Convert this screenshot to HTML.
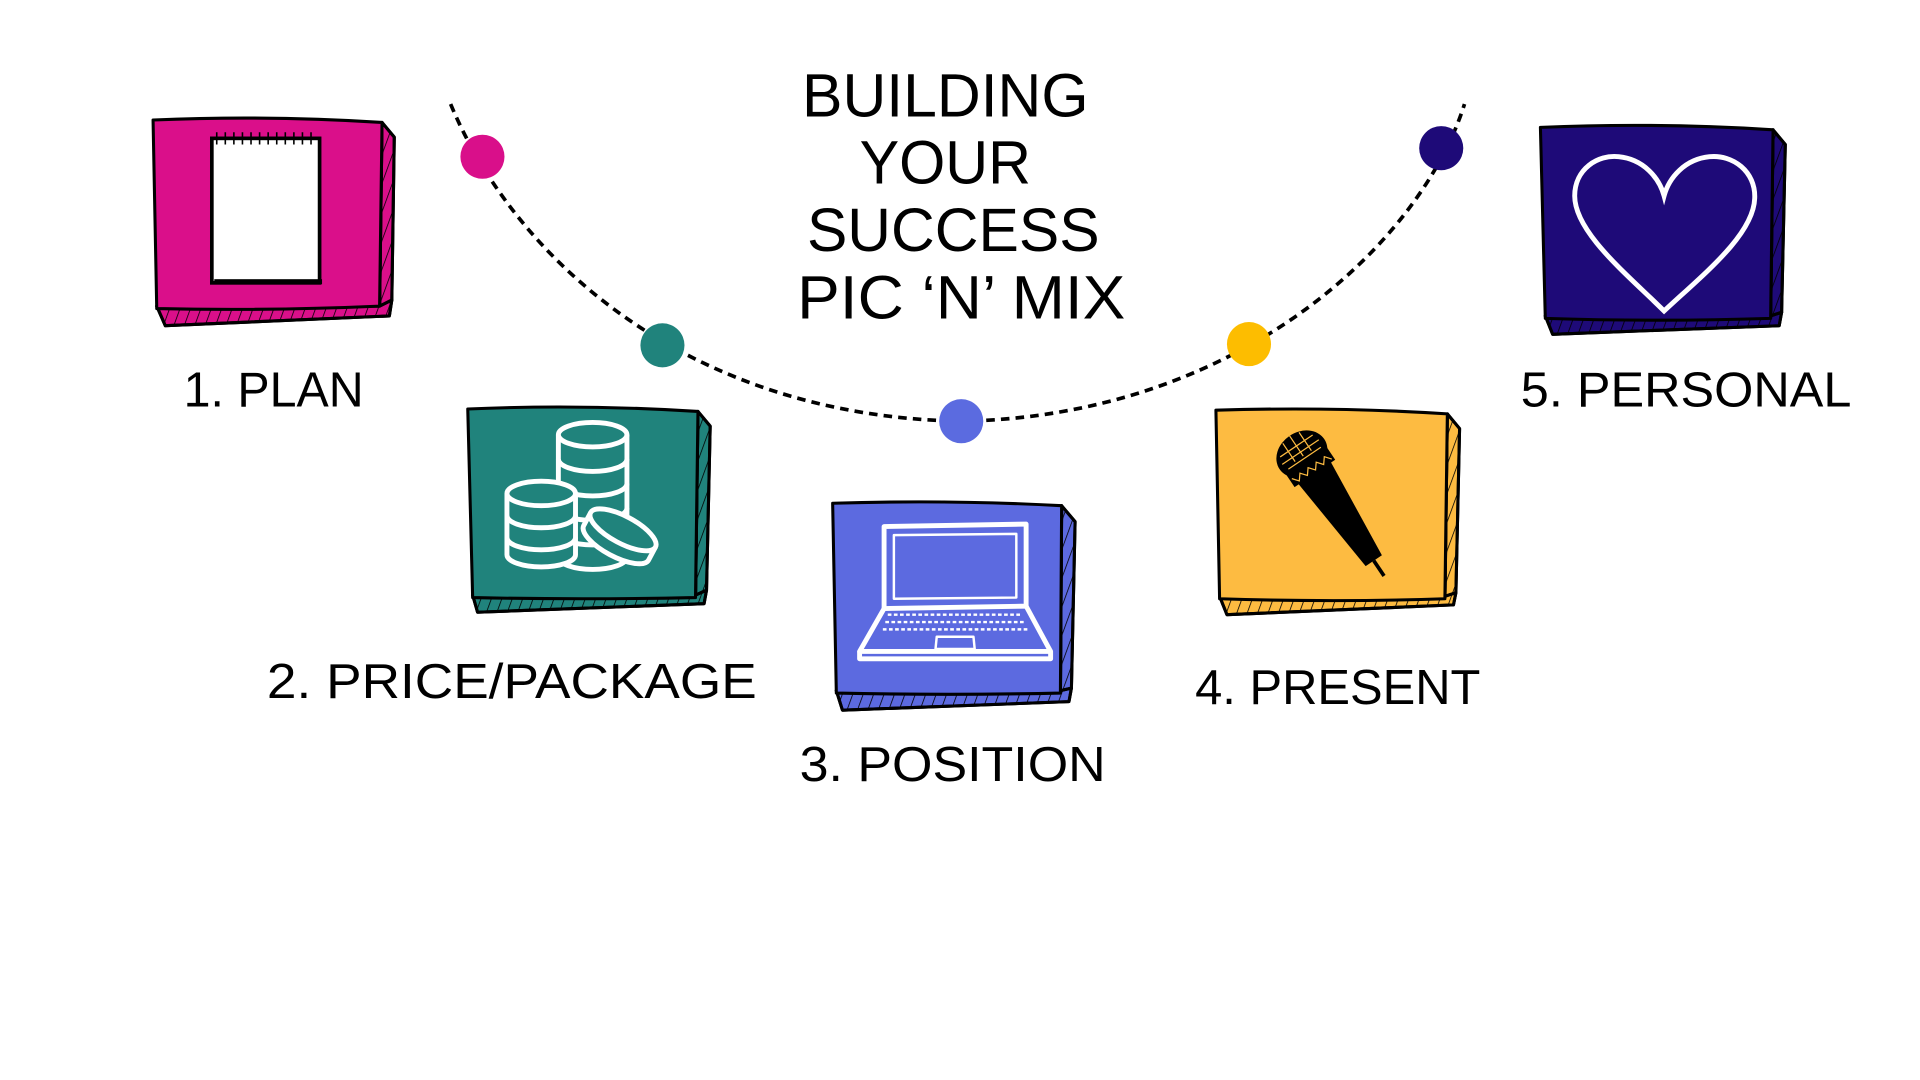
<!DOCTYPE html>
<html><head><meta charset="utf-8"><style>
html,body{margin:0;padding:0;background:#fff;width:1920px;height:1080px;overflow:hidden}
svg{display:block}
text{font-family:"Liberation Sans",sans-serif;fill:#000}
</style></head><body>
<svg width="1920" height="1080" viewBox="0 0 1568 882" xmlns="http://www.w3.org/2000/svg">
<defs>
<pattern id="hatch" width="8" height="8" patternUnits="userSpaceOnUse" patternTransform="rotate(20)">
<line x1="0" y1="0" x2="0" y2="8" stroke="#000" stroke-width="1.3"/>
</pattern>
</defs>
<path d="M368 85 C 420 210, 560 340, 785 344 C 1010 340, 1160 200, 1196 85" fill="none" stroke="#000" stroke-width="3" stroke-dasharray="7,5"/>
<circle cx="394" cy="128" r="18" fill="#d90f8a"/>
<circle cx="541" cy="282" r="18" fill="#20837c"/>
<circle cx="785" cy="344" r="18" fill="#5b6be0"/>
<circle cx="1020" cy="281" r="18" fill="#fdbd00"/>
<circle cx="1177" cy="121" r="18" fill="#1e0a78"/>

<g font-size="50" font-weight="500">
<text x="655" y="95" textLength="234" lengthAdjust="spacingAndGlyphs">BUILDING</text>
<text x="702" y="150" textLength="140" lengthAdjust="spacingAndGlyphs">YOUR</text>
<text x="659" y="205" textLength="239" lengthAdjust="spacingAndGlyphs">SUCCESS</text>
<text x="651" y="260" textLength="268" lengthAdjust="spacingAndGlyphs">PIC ‘N’ MIX</text>
</g>

<g stroke="#000" stroke-width="2.5" stroke-linejoin="round">
 <g fill="#da0f8a">
  <path d="M312 100 L322 112 L320 245 L310 255 Z"/><path d="M312 100 L322 112 L320 245 L310 255 Z" fill="url(#hatch)"/>
  <path d="M128 250 L310 250 L320 245 L318 258 L135 266 Z"/><path d="M128 250 L310 250 L320 245 L318 258 L135 266 Z" fill="url(#hatch)"/>
  <path d="M125 98 Q220 94 312 100 L310 250 Q220 254 128 252 Z"/>
 </g>
 <g fill="#20837c">
  <path d="M570 336 L580 348 L577 482 L568 492 Z"/><path d="M570 336 L580 348 L577 482 L568 492 Z" fill="url(#hatch)"/>
  <path d="M386 486 L568 486 L577 482 L575 493 L390 500 Z"/><path d="M386 486 L568 486 L577 482 L575 493 L390 500 Z" fill="url(#hatch)"/>
  <path d="M382 334 Q475 330 570 336 L568 488 Q475 490 386 488 Z"/>
 </g>
 <g fill="#5c6ae0">
  <path d="M867 413 L878 426 L875 562 L866 572 Z"/><path d="M867 413 L878 426 L875 562 L866 572 Z" fill="url(#hatch)"/>
  <path d="M683 564 L866 564 L875 562 L873 573 L688 580 Z"/><path d="M683 564 L866 564 L875 562 L873 573 L688 580 Z" fill="url(#hatch)"/>
  <path d="M680 411 Q775 408 867 413 L866 566 Q775 568 683 566 Z"/>
 </g>
 <g fill="#fdbb41">
  <path d="M1182 338 L1192 350 L1189 484 L1180 494 Z"/><path d="M1182 338 L1192 350 L1189 484 L1180 494 Z" fill="url(#hatch)"/>
  <path d="M996 487 L1180 487 L1189 484 L1187 494 L1002 502 Z"/><path d="M996 487 L1180 487 L1189 484 L1187 494 L1002 502 Z" fill="url(#hatch)"/>
  <path d="M993 335 Q1090 332 1182 338 L1180 489 Q1090 492 996 489 Z"/>
 </g>
 <g fill="#1e0a78">
  <path d="M1448 106 L1458 118 L1455 255 L1446 264 Z"/><path d="M1448 106 L1458 118 L1455 255 L1446 264 Z" fill="url(#hatch)"/>
  <path d="M1262 258 L1446 258 L1455 255 L1453 266 L1268 273 Z"/><path d="M1262 258 L1446 258 L1455 255 L1453 266 L1268 273 Z" fill="url(#hatch)"/>
  <path d="M1258 104 Q1355 100 1448 106 L1446 260 Q1355 263 1262 260 Z"/>
 </g>
</g>

<rect x="173" y="113" width="88" height="118" fill="#fff" stroke="#000" stroke-width="3"/>
<rect x="175" y="228" width="88" height="4" fill="#000"/>
<g stroke="#000" stroke-width="1.3" fill="none">
<path d="M177 118 v-10 M184 118 v-10 M191 118 v-10 M198 118 v-10 M205 118 v-10 M212 118 v-10 M219 118 v-10 M226 118 v-10 M233 118 v-10 M240 118 v-10 M247 118 v-10 M254 118 v-10"/>
</g>

<g fill="#20837c" stroke="#fff" stroke-width="4">
 <path d="M456 355 v100 a28 10 0 0 0 56 0 v-100"/>
 <ellipse cx="484" cy="355" rx="28" ry="10"/>
 <path d="M456 375 a28 10 0 0 0 56 0 M456 395 a28 10 0 0 0 56 0 M456 415 a28 10 0 0 0 56 0 M456 435 a28 10 0 0 0 56 0" fill="none"/>
 <path d="M414 403 v50 a28 10 0 0 0 56 0 v-50"/>
 <ellipse cx="442" cy="403" rx="28" ry="10"/>
 <path d="M414 421 a28 10 0 0 0 56 0 M414 439 a28 10 0 0 0 56 0" fill="none"/>
 <g transform="rotate(28 506 438)">
  <path d="M476 432 v12 a30 11 0 0 0 60 0 v-12" />
  <ellipse cx="506" cy="432" rx="30" ry="11"/>
 </g>
</g>

<g fill="none" stroke="#fff" stroke-width="4" stroke-linejoin="round">
 <path d="M722 430 L838 428 L838 495 L722 497 Z"/>
 <path d="M730 437 L830 436 L830 488 L730 489 Z" stroke-width="2"/>
 <path d="M722 497 L702 532 L858 532 L838 495"/>
 <path d="M702 532 L702 538 L858 538 L858 532"/>
 <path d="M725 502 L835 502 M723 508 L837 508 M721 514 L839 514" stroke-width="2" stroke-dasharray="3,2"/>
 <path d="M765 520 L795 520 L796 530 L764 530 Z" stroke-width="2"/>
</g>

<g>
 <g transform="rotate(-34 1066 375)">
  <ellipse cx="1066" cy="370" rx="22" ry="18" fill="#000"/>
  <rect x="1046" y="375" width="40" height="14" fill="#000"/>
  <path d="M1050 388 L1082 388 L1074 475 L1058 475 Z" fill="#000"/>
  <line x1="1066" y1="475" x2="1066" y2="490" stroke="#000" stroke-width="3"/>
 </g>
 <g stroke="#fdbb41" stroke-width="1" transform="rotate(-34 1066 375)">
  <path d="M1050 362 h32 M1048 368 h36 M1050 374 h32 M1058 354 v18 M1066 352 v20 M1074 354 v18"/>
  <path d="M1048 382 l4 5 l4 -5 l4 5 l4 -5 l4 5 l4 -5 l4 5 l4 -5 l4 5"/>
 </g>
</g>

<path d="M1359 254 C 1330 225, 1286 190, 1286 160 C 1286 138, 1305 126, 1322 128 C 1342 130, 1355 145, 1359 160 C 1363 145, 1376 130, 1396 128 C 1415 126, 1434 140, 1433 162 C 1432 192, 1390 225, 1359 254 Z" fill="none" stroke="#fff" stroke-width="4"/>

<g font-size="40" font-weight="500">
<text x="150" y="332" textLength="147" lengthAdjust="spacingAndGlyphs">1. PLAN</text>
<text x="218" y="570" textLength="400" lengthAdjust="spacingAndGlyphs">2. PRICE/PACKAGE</text>
<text x="653" y="638" textLength="250" lengthAdjust="spacingAndGlyphs">3. POSITION</text>
<text x="976" y="575" textLength="233" lengthAdjust="spacingAndGlyphs">4. PRESENT</text>
<text x="1242" y="332" textLength="270" lengthAdjust="spacingAndGlyphs">5. PERSONAL</text>
</g>
</svg>
</body></html>
